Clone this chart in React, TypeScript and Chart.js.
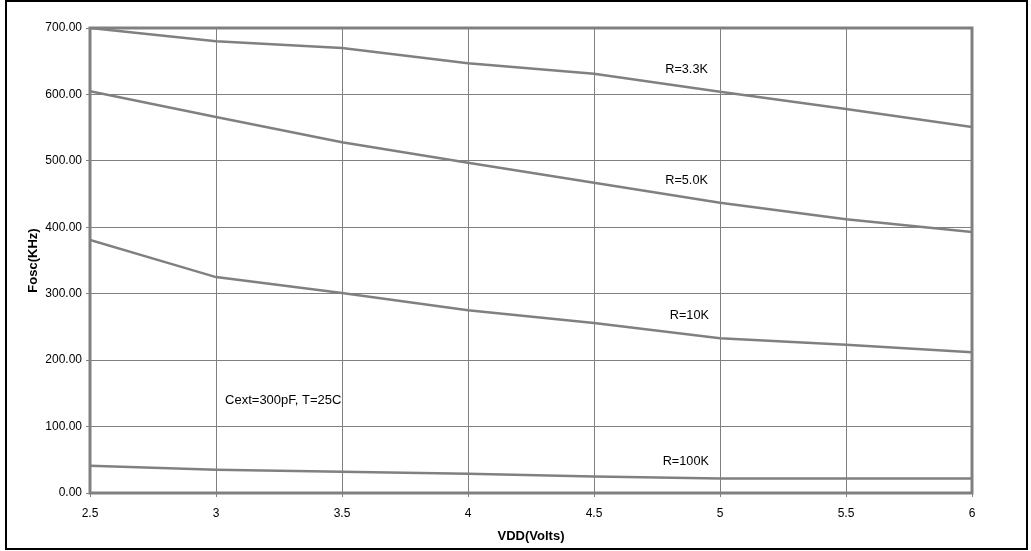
import React, { useEffect, useRef } from "react";
import { Chart, registerables } from "chart.js";

Chart.register(...registerables);

const vdd = [2.5, 3, 3.5, 4, 4.5, 5, 5.5, 6];
const r33k = [700, 680, 670, 647, 631, 604, 578, 551];
const r50k = [605, 566, 528, 497, 467, 437, 412, 393];
const r10k = [381, 325, 301, 275, 256, 233, 223, 212];
const r100k = [41, 35, 32, 29, 25, 22, 22, 22];

const seriesNames = ["R=3.3K", "R=5.0K", "R=10K", "R=100K"];
const seriesValues = [r33k, r50k, r10k, r100k];

// annotation anchors in data coordinates (x = right edge of text, y = text middle)
const labelX = [4.952, 4.952, 4.956, 4.956];
const labelY = [637, 470, 266.5, 48];
const noteText = "Cext=300pF, T=25C";
const noteX = 3.036;
const noteY = 140;

const FONT = "'Liberation Sans', Arial, sans-serif";
const GRAY = "#808080";

const decorPlugin = {
  id: "decor",
  beforeDatasetsDraw(chart: any) {
    const { ctx, chartArea: a } = chart;
    ctx.save();
    ctx.strokeStyle = GRAY;
    ctx.lineWidth = 3;
    ctx.strokeRect(a.left, a.top, a.right - a.left, a.bottom - a.top);
    ctx.restore();
  },
  afterDatasetsDraw(chart: any) {
    const { ctx } = chart;
    const xs = chart.scales.x;
    const ys = chart.scales.y;
    ctx.save();
    ctx.font = `12.7px ${FONT}`;
    ctx.fillStyle = "#000";
    ctx.textBaseline = "middle";
    ctx.textAlign = "right";
    seriesNames.forEach((n, i) => {
      ctx.fillText(n, xs.getPixelForValue(labelX[i]), ys.getPixelForValue(labelY[i]));
    });
    ctx.font = `13px ${FONT}`;
    const nx = xs.getPixelForValue(noteX);
    const ny = ys.getPixelForValue(noteY);
    const w = ctx.measureText(noteText).width;
    ctx.fillStyle = "#fff";
    ctx.fillRect(nx - 4, ny - 27, w + 4, 36);
    ctx.fillStyle = "#000";
    ctx.textAlign = "left";
    ctx.fillText(noteText, nx, ny);
    ctx.restore();
  },
  afterDraw(chart: any) {
    const { ctx } = chart;
    ctx.save();
    ctx.strokeStyle = "#000";
    ctx.lineWidth = 2;
    ctx.strokeRect(6, 1, 1021, 548);
    ctx.restore();
  },
};

export default function App() {
  const ref = useRef<HTMLCanvasElement>(null);
  useEffect(() => {
    if (!ref.current) return;
    const chart = new Chart(ref.current, {
      type: "line",
      data: {
        datasets: seriesValues.map((vals, i) => ({
          label: seriesNames[i],
          data: vals.map((v, j) => ({ x: vdd[j], y: v })),
          borderColor: GRAY,
          borderWidth: 2.5,
          pointRadius: 0,
          tension: 0,
          fill: false,
        })),
      },
      options: {
        responsive: false,
        animation: false,
        events: [],
        layout: { padding: { left: 0, top: 28, right: 59, bottom: 0 } },
        plugins: { legend: { display: false }, tooltip: { enabled: false } },
        scales: {
          x: {
            type: "linear",
            min: 2.5,
            max: 6,
            afterFit: (s: any) => {
              s.height = 58;
            },
            ticks: {
              stepSize: 0.5,
              color: "#000",
              padding: 9,
              font: { family: FONT, size: 12 },
              maxRotation: 0,
              callback: (v: any) => String(v),
            },
            grid: { color: GRAY, lineWidth: 1, tickLength: 4 },
            border: { display: false },
            title: {
              display: true,
              text: "VDD(Volts)",
              color: "#000",
              font: { family: FONT, size: 13, weight: "bold" },
              padding: { top: 0, bottom: 7 },
            },
          },
          y: {
            min: 0,
            max: 700,
            afterFit: (s: any) => {
              s.width = 90;
            },
            ticks: {
              stepSize: 100,
              color: "#000",
              padding: 4,
              font: { family: FONT, size: 12 },
              callback: (v: any) => Number(v).toFixed(2),
            },
            grid: { color: GRAY, lineWidth: 1, tickLength: 4 },
            border: { display: false },
            title: {
              display: true,
              text: "Fosc(KHz)",
              color: "#000",
              font: { family: FONT, size: 13, weight: "bold" },
              padding: { top: 26, bottom: 0 },
            },
          },
        },
      },
      plugins: [decorPlugin],
    } as any);
    return () => chart.destroy();
  }, []);
  return (
    <div style={{ position: "fixed", left: 0, top: 0, width: 1031, height: 551, background: "#fff" }}>
      <canvas ref={ref} width={1031} height={551} style={{ display: "block" }} />
    </div>
  );
}
